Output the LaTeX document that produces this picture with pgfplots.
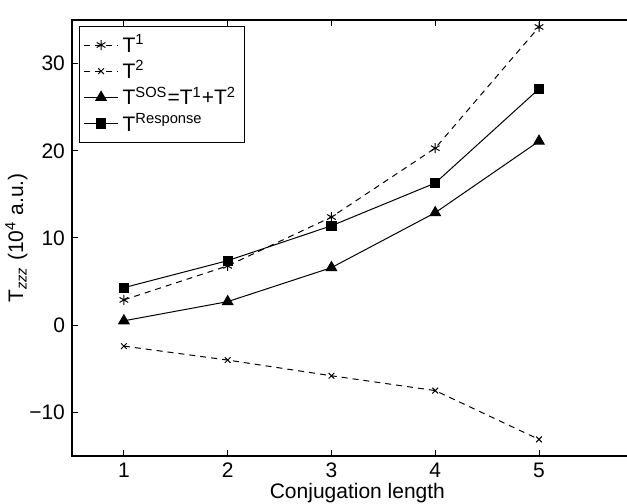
\documentclass[border=0pt]{standalone}
\usepackage{fontspec}
\setmainfont{Liberation Sans}
\usepackage{pgfplots}
\pgfplotsset{compat=1.18}
\begin{document}
\begin{tikzpicture}
\begin{axis}[
  scale only axis,
  width=285.4pt, height=218pt,
  xmin=0.5, xmax=6, ymin=-15, ymax=35,
  xtick={1,2,3,4,5}, ytick={-10,0,10,20,30},
  xticklabels={1,2,3,4,5},
  yticklabels={−10,0,10,20,30},
  tick align=inside,
  major tick length=3pt,
  minor tick num=0,
  tick label style={font=\fontsize{10.5}{12}\selectfont},
  label style={font=\fontsize{10.5}{12}\selectfont},
  xlabel={Conjugation length},
  ylabel={T\textsubscript{\itshape zzz} (10\textsuperscript{4} a.u.)},
  xlabel style={yshift=4pt},
  ylabel style={yshift=-6pt},
  axis line style={line width=0.6pt},
  every tick/.style={black, line width=0.5pt},
  legend style={at={(rel axis cs:0,1)}, anchor=north west, xshift=3.5pt, yshift=-3pt,
    font=\fontsize{10.5}{12}\selectfont, draw=black, line width=0.5pt,
    row sep=-1.5pt, inner sep=2pt},
  legend cell align=left,
]
\addplot[black, line width=0.5pt, dash pattern=on 3pt off 2.5pt, mark=asterisk, mark size=2.5pt, mark options={solid}]
  coordinates {(1,2.9) (2,6.8) (3,12.4) (4,20.3) (5,34.2)};
\addlegendentry{T\textsuperscript{1}}
\addplot[black, line width=0.5pt, dash pattern=on 3pt off 2.5pt, mark=x, mark size=2pt, mark options={solid}]
  coordinates {(1,-2.4) (2,-4.0) (3,-5.8) (4,-7.5) (5,-13.1)};
\addlegendentry{T\textsuperscript{2}}
\addplot[black, line width=0.5pt, mark=triangle*, mark size=3pt, mark options={solid}]
  coordinates {(1,0.5) (2,2.7) (3,6.6) (4,12.9) (5,21.1)};
\addlegendentry{T\textsuperscript{SOS}=T\textsuperscript{1}+T\textsuperscript{2}}
\addplot[black, line width=0.5pt, mark=square*, mark size=2.3pt, mark options={solid}]
  coordinates {(1,4.3) (2,7.4) (3,11.4) (4,16.3) (5,27.1)};
\addlegendentry{T\textsuperscript{Response}}
\coordinate (sw) at (rel axis cs:0,0);
\coordinate (ne) at (rel axis cs:1,1);
\end{axis}
\pgfresetboundingbox
\path[use as bounding box] ([xshift=-36pt,yshift=-24pt]sw) rectangle ([xshift=-7.9pt,yshift=10pt]ne);
\end{tikzpicture}
\end{document}
